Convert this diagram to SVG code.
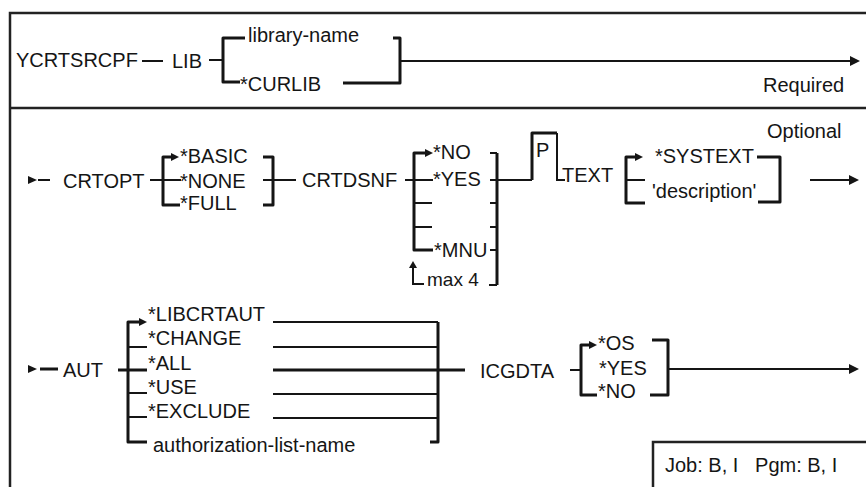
<svg xmlns="http://www.w3.org/2000/svg" width="866" height="487" viewBox="0 0 866 487">
<style>
.t{font-family:"Liberation Sans",Arial,sans-serif;font-size:20px;fill:#151515}
.s{font-size:19px}
.ln{stroke:#151515;stroke-width:2;fill:none}
.th{stroke:#151515;stroke-width:3;fill:none}
.br{stroke:#151515;stroke-width:3;fill:none;stroke-linejoin:round}
.fr{stroke:#222;stroke-width:2.5;fill:none}
.ah{fill:#151515}
</style>
<rect width="866" height="487" fill="#fff"/>
<g id="frame">
<path class="fr" d="M10 487 L10 13 L866 13"/>
<path class="fr" d="M10 108 L866 108" stroke-width="2"/>
<path class="fr" d="M653 487 L653 442 L866 442"/>
</g>
<g id="connectors">
<!-- row 1 -->
<path class="ln" d="M142 61 L163 61"/>
<path class="ln" d="M209 60 L223 60"/>
<path class="br" d="M245 38 L223 38 L223 82 L240 82"/>
<path class="br" d="M393 38 L400 38 L400 83 L343 83"/>
<path class="ln" d="M400 61 L851 61"/>
<polygon class="ah" points="850,56 860,61 850,66"/>
<!-- row 2 -->
<polygon class="ah" points="28,176 37,180 28,184"/>
<path class="ln" d="M38 180 L50 180"/>
<path class="ln" d="M150 180 L181 180"/>
<path class="br" d="M172 157 L163 157 L163 205 L180 205"/>
<polygon class="ah" points="171,153 179,157 171,161"/>
<path class="br" d="M263 157 L273 157 L273 205 L263 205"/>
<path class="ln" d="M263 180 L296 180"/>
<path class="ln" d="M405 180 L433 180"/>
<path class="br" d="M426 153 L414 153 L414 250 L433 250"/>
<polygon class="ah" points="425,149 433,153 425,157"/>
<path class="ln" d="M414 203 L432 203 M414 227 L432 227"/>
<path class="ln" d="M490 153 L497 153 M490 180 L532 180 M490 203 L497 203 M490 227 L497 227 M490 250 L497 250 M489 285 L497 285"/>
<path class="br" d="M497 153 L497 285"/>
<path class="ln" d="M424 284 L413 284 L413 266"/>
<polygon class="ah" points="409,268 413,261 417,268"/>
<path class="br" d="M532 180 L532 133 L557 133"/>
<path class="ln" d="M557 133 L557 180 L565 180"/>
<path class="br" d="M636 157 L626 157 L626 203 L645 203"/>
<polygon class="ah" points="635,153 643,157 635,161"/>
<path class="ln" d="M626 180 L645 180"/>
<path class="br" d="M757 157 L780 157 L780 202 L758 202"/>
<path class="ln" d="M810 180 L850 180"/>
<polygon class="ah" points="849,175 859,180 849,185"/>
<!-- row 3 -->
<polygon class="ah" points="28,365 37,369 28,373"/>
<path class="th" d="M40 369 L58 369"/>
<path class="th" d="M118 370 L147 370"/>
<path class="br" d="M139 322 L128 322 L128 442 L147 442"/>
<polygon class="ah" points="139,318 147,322 139,326"/>
<path class="ln" d="M128 347 L147 347 M128 393 L147 393 M128 417 L147 417"/>
<path class="ln" d="M273 322 L438 322 M273 347 L438 347 M273 394 L438 394 M273 418 L438 418"/>
<path class="th" d="M273 370 L465 370"/>
<path class="br" d="M438 322 L438 442 L430 442"/>
<path class="ln" d="M570 370 L581 370"/>
<path class="br" d="M589 345 L581 345 L581 395 L597 395"/>
<polygon class="ah" points="589,341 597,345 589,349"/>
<path class="br" d="M652 340 L668 340 L668 395 L650 395"/>
<path class="ln" d="M668 369 L850 369"/>
<polygon class="ah" points="849,364 859,369 849,374"/>
</g>
<g id="n-ycrtsrcpf"><text class="t" x="16" y="67">YCRTSRCPF</text></g>
<g id="n-lib"><text class="t" x="172" y="68">LIB</text></g>
<g id="n-library-name"><text class="t" x="248" y="42">library-name</text></g>
<g id="n-curlib"><text class="t" x="240" y="91">*CURLIB</text></g>
<g id="n-required"><text class="t" x="763" y="92">Required</text></g>
<g id="n-crtopt"><text class="t" x="63" y="188">CRTOPT</text></g>
<g id="n-basic"><text class="t" x="180" y="163">*BASIC</text></g>
<g id="n-none"><text class="t" x="180" y="188">*NONE</text></g>
<g id="n-full"><text class="t" x="180" y="210">*FULL</text></g>
<g id="n-crtdsnf"><text class="t" x="302" y="187">CRTDSNF</text></g>
<g id="n-no"><text class="t" x="433" y="159">*NO</text></g>
<g id="n-yes"><text class="t" x="433" y="186">*YES</text></g>
<g id="n-mnu"><text class="t" x="434" y="257">*MNU</text></g>
<g id="n-max4"><text class="t s" x="427" y="286">max 4</text></g>
<g id="n-p"><text class="t" x="536" y="157">P</text></g>
<g id="n-text"><text class="t" x="562" y="182">TEXT</text></g>
<g id="n-systext"><text class="t" x="655" y="163">*SYSTEXT</text></g>
<g id="n-description"><text class="t" x="652" y="198">'description'</text></g>
<g id="n-optional"><text class="t" x="767" y="138">Optional</text></g>
<g id="n-aut"><text class="t" x="63" y="377">AUT</text></g>
<g id="n-libcrtaut"><text class="t" x="148" y="321">*LIBCRTAUT</text></g>
<g id="n-change"><text class="t" x="148" y="345">*CHANGE</text></g>
<g id="n-all"><text class="t" x="148" y="370">*ALL</text></g>
<g id="n-use"><text class="t" x="148" y="394">*USE</text></g>
<g id="n-exclude"><text class="t" x="148" y="418">*EXCLUDE</text></g>
<g id="n-authlist"><text class="t" x="153" y="452">authorization-list-name</text></g>
<g id="n-icgdta"><text class="t" x="480" y="378">ICGDTA</text></g>
<g id="n-os"><text class="t" x="598" y="350">*OS</text></g>
<g id="n-yes2"><text class="t" x="599" y="375">*YES</text></g>
<g id="n-no2"><text class="t" x="598" y="398">*NO</text></g>
<g id="n-job"><text class="t" x="665" y="472" xml:space="preserve">Job: B, I   Pgm: B, I</text></g>
</svg>
